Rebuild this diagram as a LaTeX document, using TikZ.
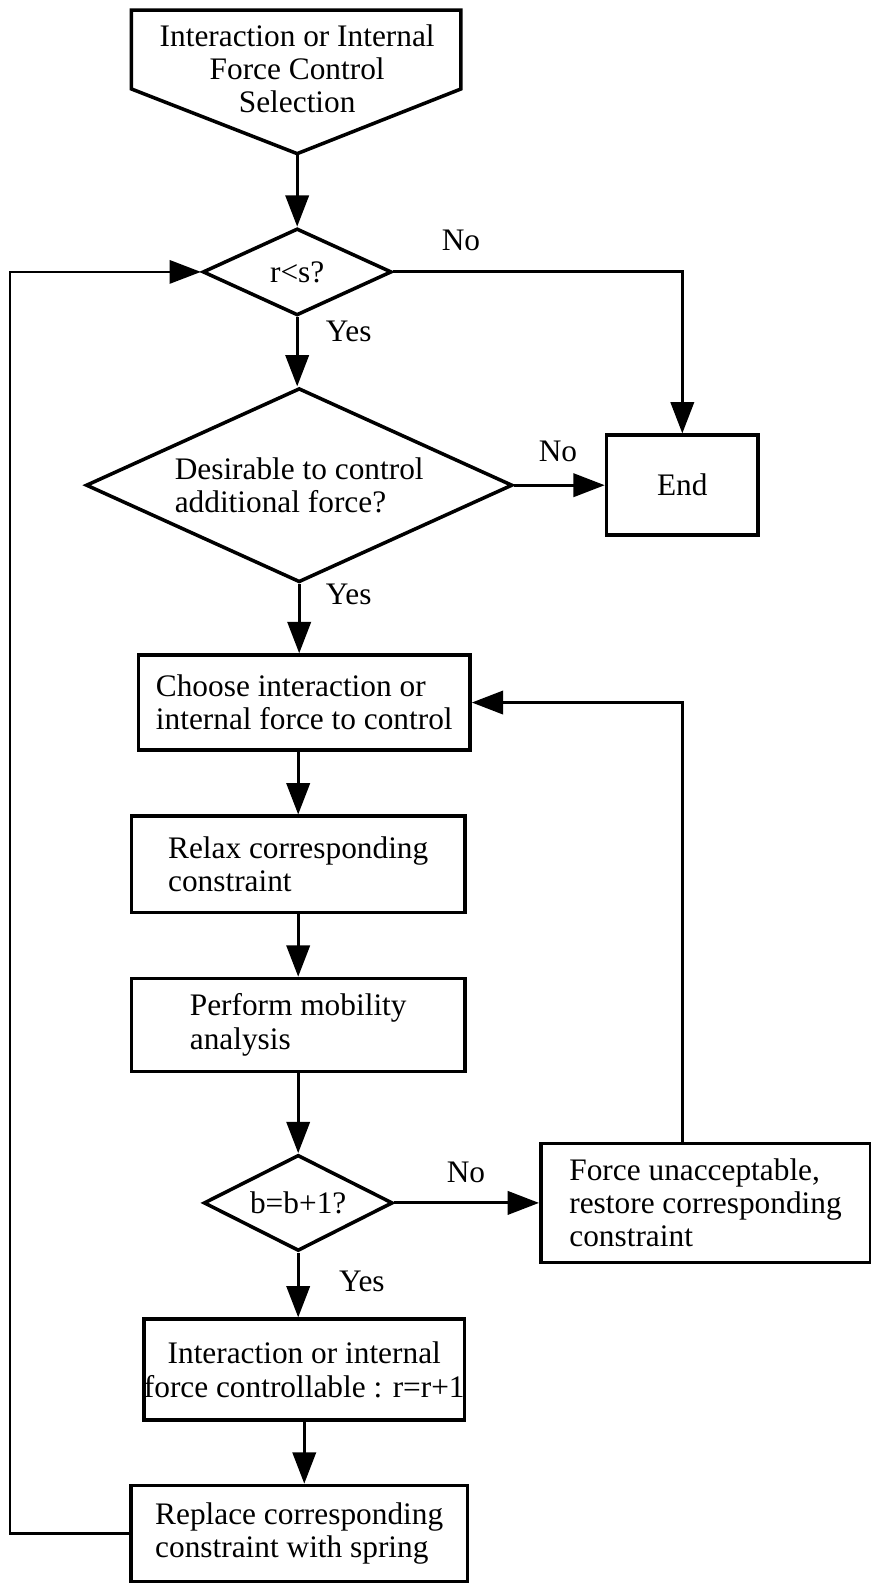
\documentclass[tikz,border=0pt]{standalone}
\usepackage{fontspec}
\setmainfont{Liberation Serif}
\usetikzlibrary{arrows.meta,shapes.geometric}

\tikzset{
  base/.style={font=\fontsize{31}{33}\selectfont},
  stepbox/.style={base, draw, line width=3.5pt, rectangle, inner sep=0pt, align=left},
  decide/.style={base, draw, line width=3.5pt, diamond, inner sep=0pt, align=left},
  flow/.style={line width=3pt, -{Triangle[length=31pt,width=23pt]}},
  lbl/.style={base, inner sep=0pt}
}

\begin{document}
\begin{tikzpicture}[x=1pt,y=-1pt]
  \useasboundingbox (0,0) rectangle (861,1568);

  % start: pentagon pointing down
  \coordinate (ptl) at (130,10);
  \coordinate (ptr) at (456,10);
  \coordinate (psr) at (456,88);
  \coordinate (ptip) at (294,152);
  \coordinate (psl) at (130,88);
  \draw[line width=3.5pt, line join=miter] (ptl) -- (ptr) -- (psr) -- (ptip) -- (psl) -- cycle;
  \node[base, align=center, inner sep=0pt] (start) at (294,68)
    {Interaction or Internal\\Force Control\\Selection};

  % decisions and steps
  \node[decide, minimum width=187pt, minimum height=86pt, aspect=2.2] (rs) at (294,269) {r<s?};
  \node[decide, minimum width=422pt, minimum height=192pt, aspect=2.2] (des) at (296,480)
    {Desirable to control\\additional force?};
  \node[stepbox, align=center, minimum width=150pt, minimum height=99pt] (end) at (675,480) {End};
  \node[stepbox, minimum width=328pt, minimum height=94pt] (choose) at (301,695)
    {Choose interaction or\\internal force to control};
  \node[stepbox, minimum width=330pt, minimum height=95pt] (relax) at (295,855)
    {Relax corresponding\\constraint};
  \node[stepbox, minimum width=330pt, minimum height=92pt] (perform) at (295,1014)
    {Perform mobility\\analysis};
  \node[decide, minimum width=187pt, minimum height=95pt, aspect=2.0] (bdia) at (295,1190) {b=b+1?};
  \node[stepbox, minimum width=326pt, minimum height=118pt] (force) at (698,1190)
    {Force unacceptable,\\restore corresponding\\constraint};
  \node[stepbox, align=center, minimum width=309pt, minimum height=100pt] (inter) at (301,1355)
    {Interaction or internal\\force controllable : r=r+1};
  \node[stepbox, minimum width=333pt, minimum height=95pt] (replace) at (296,1517)
    {Replace corresponding\\constraint with spring};

  % connectors
  \draw[flow] (ptip) -- (rs.north);
  \draw[flow] (rs.south) -- (rs.south |- des.north);
  \draw[flow] (rs.east) -- (rs.east -| end.north) -- (end.north);
  \draw[flow] (des.east) -- (end.west);
  \draw[flow] (des.south) -- (des.south |- choose.north);
  \draw[flow] (relax.north |- choose.south) -- (relax.north);
  \draw[flow] (relax.south) -- (perform.north);
  \draw[flow] (perform.south) -- (bdia.north);
  \draw[flow] (bdia.east) -- (force.west);
  % return from the rejected force back to the choice step
  \draw[flow] (force.north -| end.north) -- (end.north |- choose.east) -- (choose.east);
  \draw[flow] (bdia.south) -- (bdia.south |- inter.north);
  \draw[flow] (inter.south) -- (inter.south |- replace.north);

  % return loop on the left
  \coordinate (loopL) at (10,1517);
  \draw[flow, line width=2.6pt] (replace.west) -- (loopL) -- (loopL |- rs.west) -- (rs.west);

  % branch labels
  \node[lbl] (no1) at (456,238) {No};
  \node[lbl] (yes1) at (345,328) {Yes};
  \node[lbl] (no2) at (552,447) {No};
  \node[lbl] (yes2) at (345,588) {Yes};
  \node[lbl] (no3) at (461,1160) {No};
  \node[lbl] (yes3) at (358,1268) {Yes};
\end{tikzpicture}
\end{document}
